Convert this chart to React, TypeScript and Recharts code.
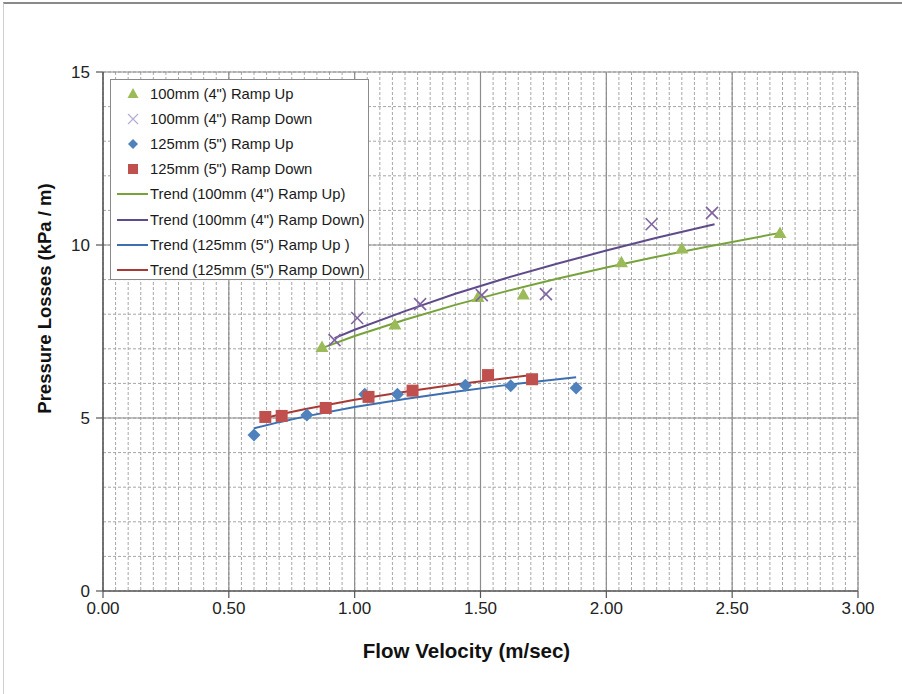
import React from 'react';
import { ScatterChart, Scatter, XAxis, YAxis, CartesianGrid, Legend } from 'recharts';

// Measured points
const up100 = [
  { x: 0.87, y: 7.05 }, { x: 1.16, y: 7.7 }, { x: 1.49, y: 8.5 }, { x: 1.67, y: 8.57 },
  { x: 2.06, y: 9.5 }, { x: 2.3, y: 9.9 }, { x: 2.69, y: 10.35 },
];
const down100 = [
  { x: 0.92, y: 7.25 }, { x: 1.01, y: 7.89 }, { x: 1.26, y: 8.29 }, { x: 1.505, y: 8.55 },
  { x: 1.76, y: 8.58 }, { x: 2.18, y: 10.6 }, { x: 2.42, y: 10.93 },
];
const up125 = [
  { x: 0.6, y: 4.51 }, { x: 0.81, y: 5.09 }, { x: 1.04, y: 5.69 }, { x: 1.17, y: 5.69 },
  { x: 1.44, y: 5.95 }, { x: 1.62, y: 5.93 }, { x: 1.88, y: 5.87 },
];
const down125 = [
  { x: 0.645, y: 5.03 }, { x: 0.71, y: 5.06 }, { x: 0.885, y: 5.29 }, { x: 1.055, y: 5.61 },
  { x: 1.23, y: 5.79 }, { x: 1.53, y: 6.24 }, { x: 1.705, y: 6.12 },
];

// Trend lines
const trendUp100 = [
  { x: 0.87, y: 7.02 }, { x: 1.0, y: 7.37 }, { x: 1.2, y: 7.84 }, { x: 1.4, y: 8.27 },
  { x: 1.6, y: 8.66 }, { x: 1.8, y: 9.02 }, { x: 2.0, y: 9.35 }, { x: 2.2, y: 9.66 },
  { x: 2.4, y: 9.95 }, { x: 2.69, y: 10.35 },
];
const trendDown100 = [
  { x: 0.92, y: 7.31 }, { x: 1.0, y: 7.55 }, { x: 1.2, y: 8.09 }, { x: 1.4, y: 8.59 },
  { x: 1.6, y: 9.04 }, { x: 1.8, y: 9.45 }, { x: 2.0, y: 9.84 }, { x: 2.2, y: 10.21 },
  { x: 2.43, y: 10.6 },
];
const trendUp125 = [
  { x: 0.6, y: 4.7 }, { x: 0.7, y: 4.88 }, { x: 0.8, y: 5.04 }, { x: 1.0, y: 5.32 },
  { x: 1.2, y: 5.55 }, { x: 1.4, y: 5.76 }, { x: 1.6, y: 5.95 }, { x: 1.88, y: 6.18 },
];
const trendDown125 = [
  { x: 0.64, y: 4.99 }, { x: 0.72, y: 5.13 }, { x: 0.8, y: 5.25 }, { x: 1.0, y: 5.53 },
  { x: 1.2, y: 5.76 }, { x: 1.4, y: 5.97 }, { x: 1.6, y: 6.15 }, { x: 1.71, y: 6.25 },
];

const xTicks = [0, 0.5, 1, 1.5, 2, 2.5, 3];
const yTicks = [0, 5, 10, 15];
const xMinor = Array.from({ length: 61 }, (_, i) => Math.round(i * 5) / 100);
const yMinor = Array.from({ length: 16 }, (_, i) => i);

const legendItems = [
  { label: '100mm (4") Ramp Up', kind: 'tri', color: '#9BBB59' },
  { label: '100mm (4") Ramp Down', kind: 'x', color: '#B9AED6' },
  { label: '125mm (5") Ramp Up', kind: 'dia', color: '#4F81BD' },
  { label: '125mm (5") Ramp Down', kind: 'sq', color: '#C0504D' },
  { label: 'Trend (100mm (4") Ramp Up)', kind: 'line', color: '#77A33A' },
  { label: 'Trend (100mm (4") Ramp Down)', kind: 'line', color: '#5F4B8B' },
  { label: 'Trend (125mm (5") Ramp Up )', kind: 'line', color: '#3D6FB0' },
  { label: 'Trend (125mm (5") Ramp Down)', kind: 'line', color: '#A83A36' },
];

const FONT = 'Liberation Sans, Arial, sans-serif';

const Tri = (p: any) => {
  const { cx, cy } = p;
  return <path d={`M${cx},${cy - 6.5} L${cx + 6.5},${cy + 5} L${cx - 6.5},${cy + 5} Z`} fill="#9BBB59" />;
};
const Cross = (p: any) => {
  const { cx, cy } = p;
  return (
    <g stroke="#8064A2" strokeWidth={1.6}>
      <line x1={cx - 6} y1={cy - 6} x2={cx + 6} y2={cy + 6} />
      <line x1={cx - 6} y1={cy + 6} x2={cx + 6} y2={cy - 6} />
    </g>
  );
};
const Dia = (p: any) => {
  const { cx, cy } = p;
  return <path d={`M${cx},${cy - 6.5} L${cx + 6.5},${cy} L${cx},${cy + 6.5} L${cx - 6.5},${cy} Z`} fill="#4F81BD" />;
};
const Sq = (p: any) => {
  const { cx, cy } = p;
  return <rect x={cx - 6} y={cy - 6} width={12} height={12} fill="#C0504D" />;
};
const NoDot = () => <g />;

const renderLegend = () => (
  <div
    style={{
      width: 259,
      height: 201,
      border: '1px solid #8a8a8a',
      background: '#fff',
      boxSizing: 'border-box',
      fontFamily: FONT,
      fontSize: 14.8,
      color: '#1a1a1a',
      paddingTop: 1,
    }}
  >
    {legendItems.map((it, i) => (
      <div key={i} style={{ height: 25.2, display: 'flex', alignItems: 'center', whiteSpace: 'nowrap' }}>
        <svg width={39} height={20} style={{ display: 'block', flex: 'none' }}>
          {it.kind === 'tri' && <path d="M22,4 L27.5,14 L16.5,14 Z" fill={it.color} />}
          {it.kind === 'x' && (
            <g stroke={it.color} strokeWidth={1.2}>
              <line x1={17} y1={5} x2={27} y2={15} />
              <line x1={17} y1={15} x2={27} y2={5} />
            </g>
          )}
          {it.kind === 'dia' && <path d="M22,5 L27,10 L22,15 L17,10 Z" fill={it.color} />}
          {it.kind === 'sq' && <rect x={17} y={5} width={10} height={10} fill={it.color} />}
          {it.kind === 'line' && <line x1={6} y1={10} x2={37} y2={10} stroke={it.color} strokeWidth={2} />}
        </svg>
        <span>{it.label}</span>
      </div>
    ))}
  </div>
);

export default function App() {
  return (
    <div style={{ position: 'absolute', left: 0, top: 0, width: 902, height: 694, background: '#fff' }}>
      <div
        style={{
          position: 'absolute', left: 3, top: 2, right: 0, bottom: 0,
          borderTop: '2px solid #8a8a8a', borderLeft: '1px solid #d0d0d0',
        }}
      />
      <div style={{ position: 'absolute', left: 0, top: 0 }}>
        <ScatterChart width={902} height={694} margin={{ top: 72, right: 44, bottom: 20, left: 43 }}>
          <CartesianGrid
            horizontalValues={yMinor}
            verticalValues={xMinor}
            stroke="#a6a6a6"
            strokeDasharray="3 2"
            strokeWidth={1}
          />
          <CartesianGrid
            horizontalValues={[5, 10, 15]}
            verticalValues={[0.5, 1, 1.5, 2, 2.5, 3]}
            stroke="#8c8c8c"
            strokeWidth={1.2}
          />
          <XAxis
            type="number"
            dataKey="x"
            domain={[0, 3]}
            ticks={xTicks}
            interval={0}
            height={83}
            tickFormatter={(v: number) => v.toFixed(2)}
            tick={{ fill: '#222', fontSize: 17, fontFamily: FONT }}
            tickSize={7}
            tickMargin={4}
            axisLine={{ stroke: '#555', strokeWidth: 1.6 }}
            tickLine={{ stroke: '#555', strokeWidth: 1.2 }}
            label={{
              value: 'Flow Velocity (m/sec)',
              position: 'insideBottom',
              offset: 16,
              dx: -14,
              fill: '#111',
              fontSize: 20.5,
              fontWeight: 'bold',
              fontFamily: FONT,
            }}
          />
          <YAxis
            type="number"
            dataKey="y"
            domain={[0, 15]}
            ticks={yTicks}
            interval={0}
            width={60}
            tick={{ fill: '#222', fontSize: 17, fontFamily: FONT }}
            tickSize={7}
            tickMargin={6}
            axisLine={{ stroke: '#555', strokeWidth: 1.6 }}
            tickLine={{ stroke: '#555', strokeWidth: 1.2 }}
            label={{
              value: 'Pressure Losses (kPa / m)',
              angle: -90,
              position: 'insideLeft',
              offset: 0,
              dx: 1,
              dy: -33,
              style: { textAnchor: 'middle' },
              fill: '#111',
              fontSize: 18.5,
              fontWeight: 'bold',
              fontFamily: FONT,
            }}
          />
          <Legend
            layout="horizontal"
            verticalAlign="middle"
            align="center"
            content={renderLegend}
            wrapperStyle={{ left: 110, top: 79, width: 259, height: 201 }}
          />
          <Scatter data={trendUp100} line={{ stroke: '#77A33A', strokeWidth: 2 }} lineType="joint" shape={NoDot} isAnimationActive={false} legendType="none" />
          <Scatter data={trendDown100} line={{ stroke: '#5F4B8B', strokeWidth: 2 }} lineType="joint" shape={NoDot} isAnimationActive={false} legendType="none" />
          <Scatter data={trendUp125} line={{ stroke: '#3D6FB0', strokeWidth: 2 }} lineType="joint" shape={NoDot} isAnimationActive={false} legendType="none" />
          <Scatter data={trendDown125} line={{ stroke: '#A83A36', strokeWidth: 2 }} lineType="joint" shape={NoDot} isAnimationActive={false} legendType="none" />
          <Scatter data={up100} shape={Tri} isAnimationActive={false} />
          <Scatter data={down100} shape={Cross} isAnimationActive={false} />
          <Scatter data={up125} shape={Dia} isAnimationActive={false} />
          <Scatter data={down125} shape={Sq} isAnimationActive={false} />
        </ScatterChart>
      </div>
    </div>
  );
}
